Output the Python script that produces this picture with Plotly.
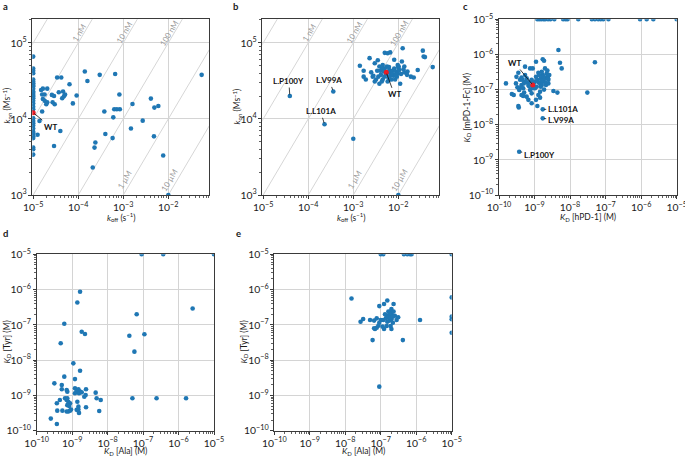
import math
import plotly.graph_objects as go

FONT = "Lato"
BLUE = "#1f77b4"
RED = "#ec1c24"
GRID = "#d4d4d4"
FRAME = "#3a3a3a"
TXT = "#1a1a1a"
W, H = 685, 456

# ---------------- data ----------------
# panel a: koff (s^-1), kon (M^-1 s^-1)
KOFF_FLOOR = 1e-5
a_kon_at_floor = [6.6e4, 4.6e4, 4.3e4, 4.0e4, 3.3e4, 3.1e4, 2.95e4, 2.8e4, 2.7e4, 2.5e4,
                  2.3e4, 2.2e4, 2.07e4, 1.97e4, 1.87e4, 1.73e4, 1.6e4, 1.45e4, 1.34e4, 1.02e4,
                  9.4e3, 8.8e3, 8.2e3, 7.5e3, 6.8e3, 6.5e3, 5.9e3, 5.6e3, 4.2e3, 4.0e3, 3.4e3]
a_koff = [1.25e-5, 3.4e-5, 4.2e-5, 6.4e-5, 1.5e-5, 1.64e-5, 2.05e-5, 1.58e-5, 1.79e-5, 2.6e-5,
          2.9e-5, 3.7e-5, 4.6e-5, 5.1e-5, 4.8e-5, 9.2e-5, 4.4e-5, 7.6e-5, 1.64e-5, 1.8e-5,
          2.05e-5, 1.95e-5, 2.7e-5, 3.0e-5, 1.58e-5, 1.38e-5, 4.0e-5, 2.9e-5, 1.4e-4, 1.6e-4,
          3.0e-4, 3.8e-4, 6.3e-4, 7.2e-4, 8.4e-4, 6.0e-4, 6.6e-4, 8.2e-4, 1.6e-3, 4.1e-3,
          4.9e-3, 6.0e-3, 2.7e-3, 1.48e-3, 4.0e-4, 2.4e-4, 2.3e-4, 5.8e-4, 7.7e-3, 4.8e-3,
          2.1e-4, 5.5e-2, 1.0e-2]
a_kon = [6.2e3, 3.5e4, 3.5e4, 2.86e4, 2.4e4, 2.5e4, 2.5e4, 2.1e4, 2.1e4, 2.07e4,
         2.0e4, 2.24e4, 2.3e4, 2.1e4, 1.98e4, 2.03e4, 1.87e4, 1.6e4, 1.83e4, 1.73e4,
         1.66e4, 1.56e4, 1.66e4, 1.56e4, 1.25e4, 9.4e3, 6.95e3, 4.4e3, 4.2e4, 3.16e4,
         3.8e4, 1.25e4, 1.34e4, 1.34e4, 1.34e4, 1.05e4, 3.9e4, 2.1e4, 1.57e4, 1.85e4,
         1.41e4, 1.48e4, 9.5e3, 7.5e3, 6.35e3, 4.9e3, 4.2e3, 5.6e3, 3.3e3, 5.9e3,
         2.3e3, 3.8e4, 1.0e3]
a_wt = (1.0e-5, 1.21e4)

# panel b
b_koff = [1.4e-3, 1.7e-3, 2.3e-3, 3.0e-3, 3.5e-3, 3.8e-3, 4.0e-3, 4.5e-3, 5.0e-3, 5.8e-3,
          6.6e-3, 8.1e-3, 9.7e-3, 1.25e-2, 1.2e-2, 1.36e-2, 1.6e-2, 2.2e-2, 2.7e-2, 3.5e-2,
          3.65e-2, 3.9e-2, 5.8e-2, 1.7e-3, 1.9e-3, 2.5e-3, 2.8e-3, 3.2e-3, 3.4e-3, 4.1e-3,
          4.5e-3, 4.9e-3, 5.8e-3, 6.3e-3, 6.9e-3, 7.5e-3, 8.1e-3, 8.9e-3, 9.7e-3, 1.05e-2,
          9.3e-3, 7.1e-3, 5.8e-3, 3.8e-3, 2.7e-3, 3.0e-3, 4.3e-3, 6.3e-3, 1.15e-2, 1.36e-2,
          1.56e-2, 1.9e-2, 1.1e-2, 5.0e-3, 5.6e-3, 7.9e-3, 8.5e-3, 6.6e-3, 1.02e-2, 4.4e-3,
          5.3e-3, 6.0e-3, 7.3e-3, 8.8e-3, 1.0e-2, 4.7e-3, 3.6e-3, 1.3e-2, 6.2e-3,
          3.9e-5, 3.6e-4, 2.3e-4, 1.0e-3, 1.0e-2]
b_kon = [5.0e4, 4.3e4, 6.3e4, 5.4e4, 5.9e4, 4.9e4, 4.3e4, 5.1e4, 7.4e4, 7.3e4,
         7.5e4, 6.0e4, 5.1e4, 8.5e4, 5.7e4, 4.9e4, 4.2e4, 3.5e4, 4.4e4, 7.9e4,
         6.6e4, 6.5e4, 4.8e4, 3.6e4, 3.3e4, 4.1e4, 3.7e4, 3.3e4, 4.3e4, 3.8e4,
         3.3e4, 3.6e4, 4.1e4, 4.4e4, 4.0e4, 4.3e4, 4.6e4, 4.2e4, 4.0e4, 4.4e4,
         3.6e4, 3.3e4, 3.1e4, 2.9e4, 3.6e4, 3.1e4, 3.1e4, 3.3e4, 3.9e4, 4.1e4,
         3.8e4, 3.6e4, 2.9e4, 4.6e4, 4.9e4, 3.7e4, 3.3e4, 3.7e4, 4.9e4, 4.6e4,
         3.9e4, 3.5e4, 3.9e4, 3.8e4, 4.7e4, 4.2e4, 3.6e4, 4.5e4, 4.8e4,
         2.0e4, 2.3e4, 8.5e3, 5.5e3, 1.0e3]
b_wt = (5.4e-3, 4.1e4)
b_labels = [("L.P100Y", 3.9e-5, 2.0e4, -1, -15),
            ("L.V99A", 3.6e-4, 2.3e4, -4, -11),
            ("L.L101A", 2.3e-4, 8.5e3, -4, -13),
            ("WT", 5.4e-3, 4.1e4, 8, 22)]

# iso-affinity lines (KD = koff / kon)
KD_lines = [1e-10, 1e-9, 1e-8, 1e-7, 1e-6, 1e-5]
KD_top_labels = [(1e-9, "1 nM"), (1e-8, "10 nM"), (1e-7, "100 nM")]
KD_bottom_labels = [(1e-6, "1 µM"), (1e-5, "10 µM")]

# panel c: KD hPD-1 vs KD mPD-1-Fc (M)
KD_CAP = 1e-5
c_hpd1 = [3.9e-10, 4.3e-10, 4.8e-10, 5.4e-10, 6.0e-10, 6.7e-10, 7.5e-10, 8.3e-10, 5.1e-10, 4.3e-10,
          6.0e-10, 6.7e-10, 3.7e-10, 4.2e-10, 5.4e-10, 4.3e-10, 8.3e-10, 1.03e-9, 1.15e-9, 1.03e-9,
          1.2e-9, 1.43e-9, 1.6e-9, 1.49e-9, 1.7e-9, 1.77e-9, 1.97e-9, 2.1e-9, 1.85e-9, 1.43e-9,
          1.28e-9, 1.1e-9, 8.3e-10, 2.2e-9, 2.6e-9, 2.45e-9, 1.6e-9, 1.97e-9, 5.4e-10, 4.8e-10,
          3.3e-10, 3.0e-10, 4.7e-9, 5.2e-9, 5.8e-9, 5.0e-8, 3.06e-8, 3.4e-9, 4.4e-9, 1.7e-9,
          1.85e-9, 1.1e-9, 7.5e-10, 8.9e-10, 1.28e-9, 2.3e-9, 2.3e-9, 2.45e-9, 3.5e-10, 3.1e-10,
          1.57e-10, 2.3e-10, 2.6e-10, 3.5e-10, 3.6e-10, 1.2e-9, 1.43e-9, 3.7e-10, 1.7e-9, 1.7e-9,
          6.5e-10, 7.0e-10, 9.5e-10, 1.1e-9, 1.3e-9, 1.5e-9, 1.6e-9, 1.8e-9, 2.0e-9, 5.0e-10,
          4.5e-10, 9.0e-10, 1.35e-9, 2.4e-9, 7.8e-10]
c_mpd1 = [1.9e-7, 1.35e-7, 1.09e-7, 1.7e-7, 2.1e-7, 1.35e-7, 9.7e-8, 7.8e-8, 8.2e-8, 7.0e-8,
          6.3e-8, 5.1e-8, 9.7e-8, 1.16e-7, 2.6e-7, 2.2e-7, 1.9e-7, 1.7e-7, 1.2e-7, 1.09e-7,
          1.9e-7, 1.5e-7, 1.35e-7, 2.1e-7, 2.6e-7, 1.7e-7, 2.1e-7, 1.35e-7, 1.0e-7, 8.7e-8,
          7.0e-8, 5.1e-8, 4.1e-8, 2.9e-7, 2.6e-7, 1.5e-7, 3.2e-7, 4.0e-7, 4.5e-7, 6.6e-8,
          1.16e-7, 1.5e-7, 1.34e-6, 5.8e-7, 4.0e-7, 6.0e-7, 8.2e-8, 9.1e-8, 8.2e-8, 7.3e-7,
          6.6e-7, 6.2e-7, 4.0e-7, 4.0e-7, 3.0e-7, 3.5e-7, 2.3e-7, 1.9e-7, 3.0e-7, 2.3e-7,
          1.5e-7, 7.5e-8, 7.0e-8, 3.4e-8, 3.1e-8, 3.4e-8, 5.9e-8, 1.7e-9, 2.74e-8, 1.52e-8,
          1.6e-7, 1.25e-7, 1.5e-7, 2.3e-7, 1.6e-7, 1.2e-7, 1.8e-7, 2.4e-7, 1.6e-7, 1.5e-7,
          1.9e-7, 1.1e-7, 2.6e-7, 2.1e-7, 1.7e-7]
c_top_hpd1 = [1.2e-9, 1.36e-9, 1.55e-9, 1.8e-9, 2.0e-9, 2.4e-9, 2.8e-9, 3.6e-9, 6.4e-9, 7.5e-9,
              8.5e-9, 1.7e-8, 4.1e-8, 5.0e-8, 6.2e-8, 7.3e-8, 8.6e-8, 1.2e-7, 9.3e-7, 1.43e-6,
              2.2e-6, 1e-5]
c_wt = (8.9e-10, 1.35e-7)
c_labels = [("WT", 8.9e-10, 1.35e-7, -18, -22),
            ("L.L101A", 1.7e-9, 2.74e-8, 20, 0),
            ("L.V99A", 1.7e-9, 1.52e-8, 18, 2),
            ("L.P100Y", 3.7e-10, 1.7e-9, 20, 3)]

# panel d: KD [Ala] vs KD [Tyr] (M)
d_ala = [1.67e-9, 1.4e-9, 6.0e-10, 4.75e-10, 1.86e-9, 2.3e-9, 1.08e-9, 1.67e-9, 6.0e-10, 1.2e-9,
         3.15e-10, 5.1e-10, 7.0e-10, 7.3e-10, 5.1e-10, 1.2e-9, 1.34e-9, 1.5e-9, 1.67e-9, 1.34e-9,
         1.56e-9, 1.86e-9, 1.2e-9, 2.46e-9, 2.4e-9, 2.2e-9, 4.6e-9, 4.9e-9, 6.4e-9, 6.3e-10,
         7.0e-10, 7.3e-10, 7.8e-10, 8.7e-10, 7.3e-10, 8.3e-10, 9.3e-10, 7.8e-10, 8.7e-10, 7.0e-10,
         4.5e-10, 3.7e-10, 5.3e-10, 3.8e-10, 2.5e-10, 3.7e-10, 1.4e-9, 1.5e-9, 1.34e-9, 1.56e-9,
         1.5e-9, 2.46e-9, 5.8e-9, 5.0e-8, 2.4e-7, 1.63e-6, 4.1e-8, 6.6e-8, 1.09e-7, 5.7e-8,
         2.5e-6, 9.1e-8, 3.7e-7, 1e-5]
d_tyr = [8.7e-7, 4.3e-7, 1.08e-7, 3.0e-8, 6.4e-8, 5.5e-8, 8.1e-9, 5.0e-9, 3.4e-9, 2.9e-9,
         2.2e-9, 1.97e-9, 1.42e-9, 1.28e-9, 1.49e-9, 1.6e-9, 1.42e-9, 1.5e-9, 1.28e-9, 1.28e-9,
         1.15e-9, 1.22e-9, 1.15e-9, 1.49e-9, 1.03e-9, 9.2e-10, 1.2e-9, 8.3e-10, 7.4e-10, 8.3e-10,
         7.4e-10, 8.3e-10, 6.6e-10, 6.0e-10, 5.3e-10, 5.0e-10, 4.0e-10, 3.5e-10, 3.7e-10, 3.5e-10,
         7.4e-10, 6.0e-10, 3.7e-10, 3.7e-10, 2.2e-10, 1.55e-10, 6.6e-10, 4.8e-10, 3.9e-10, 3.2e-10,
         4.0e-10, 4.6e-10, 3.6e-10, 8.3e-10, 8.3e-10, 8.3e-10, 4.9e-8, 2.0e-7, 5.4e-8, 1.74e-8,
         2.9e-7, 1e-5, 1e-5, 1e-5]

# panel e
e_ala = [1.5e-8, 1.53e-7, 9.1e-8, 1.24e-7, 2.3e-7, 2.0e-7, 1.9e-7, 1.64e-7, 1.75e-7, 2.0e-7,
         2.3e-7, 2.5e-7, 3.1e-7, 2.8e-7, 3.2e-8, 2.7e-8, 5.0e-8, 6.5e-8, 7.7e-8, 1.0e-7,
         9.1e-8, 1.18e-7, 1.4e-7, 1.53e-7, 1.75e-7, 2.0e-7, 2.2e-7, 8.6e-8, 7.7e-8, 6.9e-8,
         6.5e-8, 1.13e-7, 1.24e-7, 1.47e-7, 1.9e-7, 2.0e-7, 1.28e-6, 5.9e-8, 4.2e-7, 9.1e-8,
         1.64e-7, 1.8e-7, 1.47e-7, 1.32e-7, 2.2e-7, 1.0e-7, 1.18e-7, 4.5e-7, 5.6e-7, 6.7e-7,
         7.4e-7, 1e-5, 1e-5, 1e-5, 1e-5, 1e-5]
e_tyr = [5.6e-7, 4.9e-7, 3.4e-7, 3.9e-7, 3.9e-7, 2.8e-7, 2.4e-7, 2.4e-7, 2.0e-7, 2.1e-7,
         2.4e-7, 1.82e-7, 1.64e-7, 1.37e-7, 1.47e-7, 1.23e-7, 1.37e-7, 1.32e-7, 1.53e-7, 1.37e-7,
         1.15e-7, 1.37e-7, 1.53e-7, 1.23e-7, 1.32e-7, 1.44e-7, 1.15e-7, 9.5e-8, 8.3e-8, 7.6e-8,
         8.0e-8, 8.9e-8, 7.6e-8, 9.3e-8, 9.3e-8, 7.6e-8, 1.37e-7, 3.7e-8, 3.7e-8, 1.77e-9,
         1.71e-7, 1.64e-7, 1.82e-7, 2.0e-7, 1.71e-7, 1e-5, 1e-5, 1e-5, 1e-5, 1e-5,
         1e-5, 1e-5, 6.0e-7, 1.71e-7, 1.44e-7, 6.0e-8]

# ---------------- layout helpers ----------------
def fx(p):
    return p / W

def fy(p):
    return 1 - p / H

panels = {
    "a": dict(ax="", dx=(32.3, 209.3), dy=(19.3, 195.0), xr=[-5.02, -1.09], yr=[3, 5.31]),
    "b": dict(ax="2", dx=(262.3, 439.3), dy=(19.3, 195.0), xr=[-5.02, -1.09], yr=[3, 5.31]),
    "c": dict(ax="3", dx=(499.0, 676.7), dy=(19.3, 195.0), xr=[-10, -5], yr=[-10, -5]),
    "d": dict(ax="4", dx=(36.7, 214.0), dy=(254.3, 430.7), xr=[-10, -5], yr=[-10, -5]),
    "e": dict(ax="5", dx=(274.3, 451.7), dy=(254.3, 430.7), xr=[-10, -5], yr=[-10, -5]),
}

fig = go.Figure()

def axis(dom, rng, anchor):
    return dict(type="log", domain=dom, range=rng, anchor=anchor, automargin=False,
                showline=True, linecolor=FRAME, linewidth=1, mirror=True,
                showgrid=True, gridcolor=GRID, gridwidth=1, zeroline=False,
                ticks="outside", ticklen=3, tickwidth=1, tickcolor=FRAME,
                dtick=1, exponentformat="power", ticklabeloverflow="allow",
                tickfont=dict(family=FONT, size=8.3, color=TXT),
                minor=dict(ticks="outside", ticklen=2, tickwidth=0.8, tickcolor=FRAME,
                           dtick="D1", showgrid=False))

layout_axes = {}
for key, p in panels.items():
    s = p["ax"]
    layout_axes["xaxis" + s] = axis([fx(p["dx"][0]), fx(p["dx"][1])], p["xr"], "y" + s)
    layout_axes["yaxis" + s] = axis([fy(p["dy"][1]), fy(p["dy"][0])], p["yr"], "x" + s)

def scatter(xs, ys, s, color=BLUE, size=4.6):
    fig.add_trace(go.Scatter(x=xs, y=ys, mode="markers", xaxis="x" + s, yaxis="y" + s,
                             marker=dict(color=color, size=size, line=dict(width=0)),
                             hoverinfo="skip", showlegend=False))

annotations = []

# iso-KD lines for a, b
for s in ["", "2"]:
    for KD in KD_lines:
        span = [1e-7, 1.0]
        fig.add_trace(go.Scatter(x=span, y=[k / KD for k in span], mode="lines",
                                 xaxis="x" + s, yaxis="y" + s,
                                 line=dict(color="#d6d6d6", width=1),
                                 hoverinfo="skip", showlegend=False))
    for KD, lab in KD_top_labels:
        k = 10 ** 5.13
        annotations.append(dict(x=math.log10(KD * k), y=math.log10(k), xref="x" + s, yref="y" + s,
                                text=lab, showarrow=False, textangle=-59.4, xshift=-5,
                                xanchor="center", yanchor="middle",
                                font=dict(family=FONT, size=8, color="#9a9a9a")))
    for KD, lab in KD_bottom_labels:
        k = 10 ** 3.2
        annotations.append(dict(x=math.log10(KD * k), y=math.log10(k), xref="x" + s, yref="y" + s,
                                text=lab, showarrow=False, textangle=-59.4, xshift=-8,
                                xanchor="center", yanchor="middle",
                                font=dict(family=FONT, size=8, color="#9a9a9a")))

# panel a
scatter([KOFF_FLOOR] * len(a_kon_at_floor), a_kon_at_floor, "")
scatter(a_koff, a_kon, "")
scatter([a_wt[0]], [a_wt[1]], "", RED, 5)
# panel b
scatter(b_koff, b_kon, "2")
scatter([b_wt[0]], [b_wt[1]], "2", RED, 5)
# panel c
scatter(c_top_hpd1, [KD_CAP] * len(c_top_hpd1), "3")
scatter(c_hpd1, c_mpd1, "3")
scatter([c_wt[0]], [c_wt[1]], "3", RED, 5)
# panel d
scatter(d_ala, d_tyr, "4")
# panel e
scatter(e_ala, e_tyr, "5")

def label(text, x, y, s, axp, ayp):
    annotations.append(dict(x=math.log10(x), y=math.log10(y), xref="x" + s, yref="y" + s,
                            text="<b>%s</b>" % text, showarrow=True, arrowhead=0,
                            arrowwidth=0.8, arrowcolor="#111", ax=axp, ay=ayp, standoff=1.5,
                            xanchor="center", yanchor="middle",
                            font=dict(family=FONT, size=8, color="#111")))

label("WT", a_wt[0], a_wt[1], "", 17, 14)
for t, x, y, axp, ayp in b_labels:
    label(t, x, y, "2", axp, ayp)
for t, x, y, axp, ayp in c_labels:
    label(t, x, y, "3", axp, ayp)

def ptext(text, x, y, angle=0, size=8.5, bold=False, xanchor="center"):
    annotations.append(dict(x=fx(x), y=fy(y), xref="paper", yref="paper",
                            text=("<b>%s</b>" % text) if bold else text, showarrow=False,
                            textangle=angle, xanchor=xanchor, yanchor="middle",
                            font=dict(family=FONT, size=size, color=TXT)))

# axis titles
kon_t = "<i>k</i><sub>on</sub> (Ms<sup>−1</sup>)"
koff_t = "<i>k</i><sub>off</sub> (s<sup>−1</sup>)"
ptext(koff_t, 120.8, 217)
ptext(kon_t, 6.5, 106, -90)
ptext(koff_t, 350.8, 217)
ptext(kon_t, 236.5, 106, -90)
ptext("<i>K</i><sub>D</sub> [hPD-1] (M)", 587.8, 217)
ptext("<i>K</i><sub>D</sub> [mPD-1-Fc] (M)", 466.5, 107, -90)
ptext("<i>K</i><sub>D</sub> [Ala] (M)", 125.3, 451)
ptext("<i>K</i><sub>D</sub> [Tyr] (M)", 6.5, 342, -90)
ptext("<i>K</i><sub>D</sub> [Ala] (M)", 363, 451)
ptext("<i>K</i><sub>D</sub> [Tyr] (M)", 243.5, 342, -90)

# panel letters
for t, x, y in [("a", 1, 6), ("b", 231, 6), ("c", 461, 6), ("d", 1, 233), ("e", 234, 233)]:
    ptext(t, x, y, size=9.5, bold=True, xanchor="left")

fig.update_layout(width=W, height=H, margin=dict(l=0, r=0, t=0, b=0, autoexpand=False),
                  paper_bgcolor="white", plot_bgcolor="white", showlegend=False,
                  font=dict(family=FONT, size=8.5, color=TXT),
                  annotations=annotations, **layout_axes)

fig.write_html("out.html", config={"displayModeBar": False, "staticPlot": True},
               post_script="document.body.style.margin='0';document.body.style.overflow='hidden';")
